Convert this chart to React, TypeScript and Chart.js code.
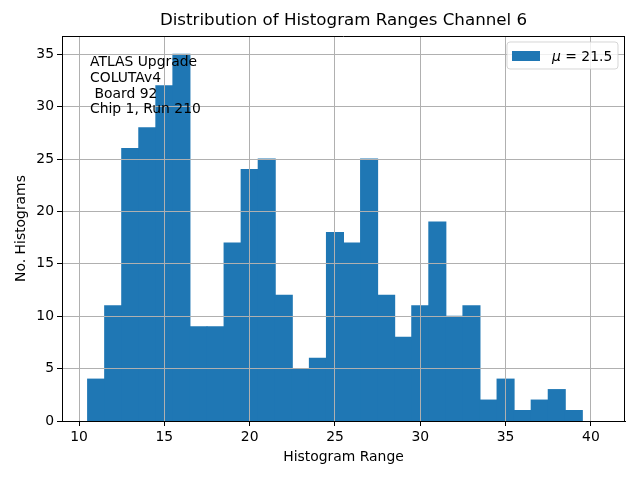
import React, { useEffect, useRef } from "react";
import { Chart, registerables } from "chart.js";

Chart.register(...registerables);

const binCenters = [11, 12, 13, 14, 15, 16, 17, 18, 19, 20, 21, 22, 23, 24, 25, 26, 27, 28, 29, 30, 31, 32, 33, 34, 35, 36, 37, 38, 39];
const counts = [4, 11, 26, 28, 32, 35, 9, 9, 17, 24, 25, 12, 5, 6, 18, 17, 25, 12, 8, 11, 19, 10, 11, 2, 4, 1, 2, 3, 1];
const xTicks = [10, 15, 20, 25, 30, 35, 40];
const yTicks = [0, 5, 10, 15, 20, 25, 30, 35];
const titleText = "Distribution of Histogram Ranges Channel 6";
const xLabel = "Histogram Range";
const yLabel = "No. Histograms";
const annotationLines = ["ATLAS Upgrade", "COLUTAv4", " Board 92", "Chip 1, Run 210"];
const legendMu = "21.5";

const FONT = "'DejaVu Sans', sans-serif";
const BLUE = "#1f77b4";

const overlay = {
  id: "overlay",
  afterDraw(chart: any) {
    const ctx = chart.ctx;
    const a = chart.chartArea;
    ctx.save();
    // top & right spines
    ctx.strokeStyle = "#000";
    ctx.lineWidth = 1;
    ctx.beginPath();
    ctx.moveTo(a.left, a.top + 0.5);
    ctx.lineTo(a.right, a.top + 0.5);
    ctx.moveTo(a.right - 0.5, a.top);
    ctx.lineTo(a.right - 0.5, a.bottom);
    ctx.stroke();
    ctx.fillStyle = "#000";
    // title
    ctx.font = `16.7px ${FONT}`;
    ctx.textAlign = "center";
    ctx.textBaseline = "middle";
    ctx.fillText(titleText, (a.left + a.right) / 2, 21);
    // axis labels
    ctx.font = `13.9px ${FONT}`;
    ctx.fillText(xLabel, (a.left + a.right) / 2, 457);
    ctx.save();
    ctx.translate(21, (a.top + a.bottom) / 2);
    ctx.rotate(-Math.PI / 2);
    ctx.fillText(yLabel, 0, 0);
    ctx.restore();
    // annotation
    ctx.textAlign = "left";
    ctx.textBaseline = "alphabetic";
    annotationLines.forEach((l, i) => {
      ctx.fillText(l, 90, 66 + i * 15.8);
    });
    // legend
    const lx = 507, ly = 42, lw = 111, lh = 27, r = 3;
    ctx.beginPath();
    ctx.moveTo(lx + r, ly);
    ctx.lineTo(lx + lw - r, ly);
    ctx.quadraticCurveTo(lx + lw, ly, lx + lw, ly + r);
    ctx.lineTo(lx + lw, ly + lh - r);
    ctx.quadraticCurveTo(lx + lw, ly + lh, lx + lw - r, ly + lh);
    ctx.lineTo(lx + r, ly + lh);
    ctx.quadraticCurveTo(lx, ly + lh, lx, ly + lh - r);
    ctx.lineTo(lx, ly + r);
    ctx.quadraticCurveTo(lx, ly, lx + r, ly);
    ctx.closePath();
    ctx.fillStyle = "rgba(255,255,255,0.8)";
    ctx.fill();
    ctx.strokeStyle = "rgba(204,204,204,0.8)";
    ctx.lineWidth = 1;
    ctx.stroke();
    ctx.fillStyle = BLUE;
    ctx.fillRect(512, 51, 28, 10);
    ctx.fillStyle = "#000";
    ctx.font = `italic 13.9px ${FONT}`;
    ctx.fillText("μ", 552, 61);
    const mw = ctx.measureText("μ").width;
    ctx.font = `13.9px ${FONT}`;
    ctx.fillText(" = " + legendMu, 552 + mw, 61);
    ctx.restore();
  },
};

export default function App() {
  const ref = useRef<HTMLCanvasElement>(null);
  useEffect(() => {
    if (!ref.current) return;
    const chart = new Chart(ref.current, {
      type: "bar",
      data: {
        datasets: [
          {
            data: binCenters.map((x, i) => ({ x, y: counts[i] })),
            backgroundColor: BLUE,
            borderWidth: 0,
            inflateAmount: 0.5,
            barPercentage: 1,
            categoryPercentage: 1,
          } as any,
        ],
      },
      options: {
        animation: false,
        responsive: false,
        maintainAspectRatio: false,
        layout: { padding: { top: 36, right: 15, left: 0, bottom: 0 } },
        plugins: { legend: { display: false }, title: { display: false }, tooltip: { enabled: false } },
        scales: {
          x: {
            type: "linear",
            min: 9,
            max: 42,
            offset: false,
            afterBuildTicks: (axis: any) => {
              axis.ticks = xTicks.map((v) => ({ value: v }));
            },
            afterFit: (axis: any) => {
              axis.height = 59;
            },
            grid: { offset: false, color: "#b0b0b0", lineWidth: 1, z: 1, drawTicks: true, tickLength: 5, tickColor: "#000" },
            border: { color: "#000", width: 1, z: 2 },
            ticks: { color: "#000", font: { family: FONT, size: 13.9 }, padding: 3, maxRotation: 0, autoSkip: false },
          },
          y: {
            type: "linear",
            min: 0,
            max: 36.75,
            afterBuildTicks: (axis: any) => {
              axis.ticks = yTicks.map((v) => ({ value: v }));
            },
            afterFit: (axis: any) => {
              axis.width = 62;
            },
            grid: { color: "#b0b0b0", lineWidth: 1, z: 1, drawTicks: true, tickLength: 5, tickColor: "#000" },
            border: { color: "#000", width: 1, z: 2 },
            ticks: { color: "#000", font: { family: FONT, size: 13.9 }, padding: 3, autoSkip: false },
          },
        },
      },
      plugins: [overlay],
    });
    return () => chart.destroy();
  }, []);
  return (
    <div style={{ position: "fixed", left: 0, top: 0, width: 640, height: 480, background: "#fff" }}>
      <canvas ref={ref} width={640} height={480} style={{ width: 640, height: 480 }} />
    </div>
  );
}
